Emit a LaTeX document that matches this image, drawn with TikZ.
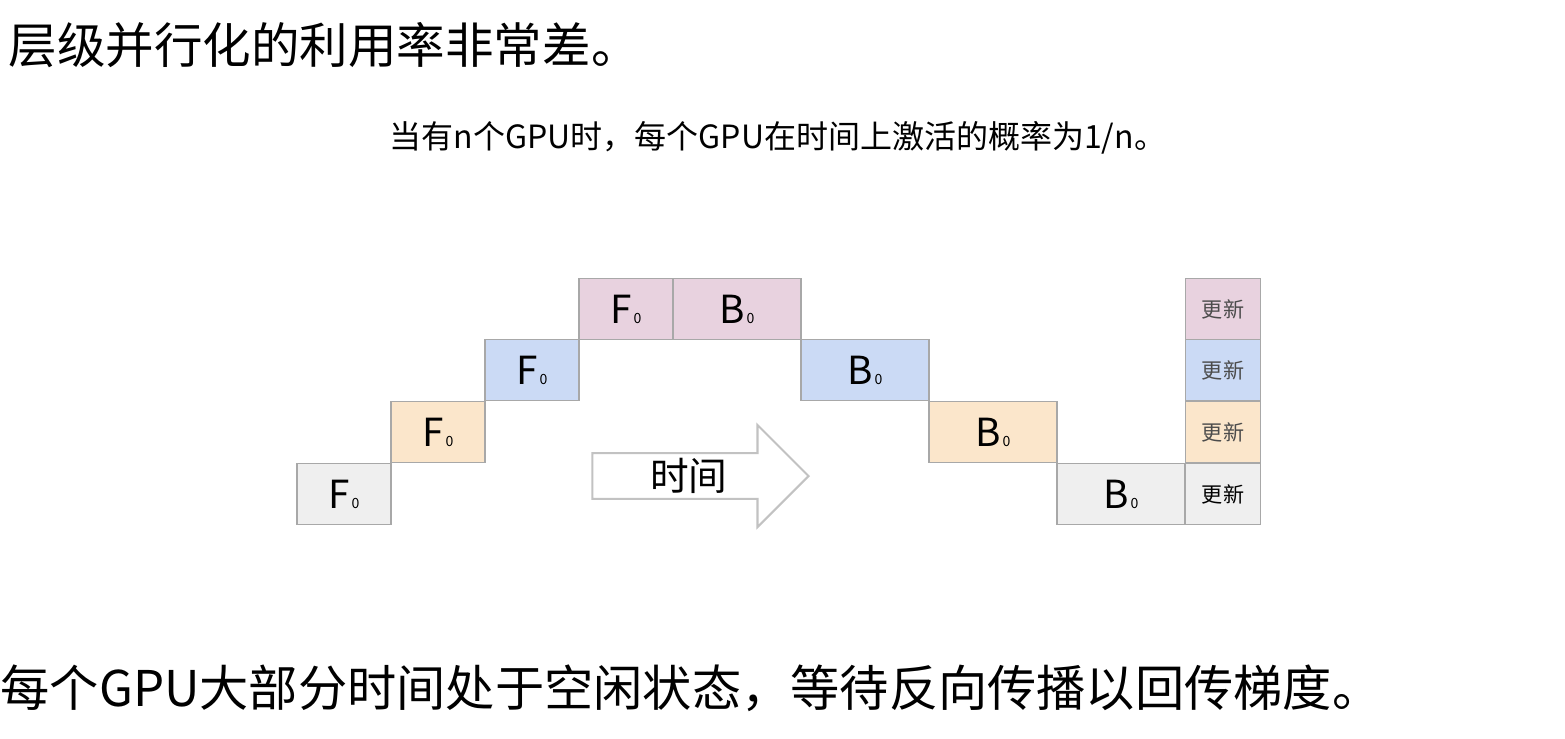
\documentclass[tikz,border=0pt]{standalone}
\usepackage{fontspec}
\setmainfont{Noto Sans CJK SC}
\usepackage{tikz}
\usetikzlibrary{shapes.arrows}
\definecolor{gpua}{HTML}{EFEFEF}
\definecolor{gpub}{HTML}{FBE6CB}
\definecolor{gpuc}{HTML}{CBDAF5}
\definecolor{gpud}{HTML}{E8D2DF}
\definecolor{edge}{HTML}{A8A8A8}
\tikzset{
  stagebox/.style={draw=edge,line width=0.5pt,minimum height=0.61cm,inner sep=0pt,font=\fontsize{11}{11}\selectfont},
  fwd/.style={stagebox,minimum width=0.94cm},
  bwd/.style={stagebox,minimum width=1.28cm},
  upd/.style={stagebox,minimum width=0.75cm,font=\fontsize{6}{6}\selectfont,text=black!70}
}
\newcommand{\sub}[1]{#1\kern0.5pt{\fontsize{4}{4}\selectfont 0}}
\begin{document}
\begin{tikzpicture}[x=0.01cm,y=-0.01cm]
        \useasboundingbox (0,0) rectangle (1565,738);
        \node[anchor=west,inner sep=0pt,font=\fontsize{13.8}{13.8}\selectfont] (title) at (8,45) {层级并行化的利用率非常差。};
        \node[font=\fontsize{9.1}{9.1}\selectfont] (cap) at (778,138) {当有n个GPU时，每个GPU在时间上激活的概率为1/n。};
        \node[anchor=west,inner sep=0pt,font=\fontsize{14}{14}\selectfont] (foot) at (0,688) {每个GPU大部分时间处于空闲状态，等待反向传播以回传梯度。};
        % forward steps
		\node[fwd,fill=gpua] (fa) at (344,494) {\sub{F}};
		\node[fwd,fill=gpub] (fb) at (438,432) {\sub{F}};
		\node[fwd,fill=gpuc] (fc) at (532,370) {\sub{F}};
		\node[fwd,fill=gpud] (fd) at (626,309) {\sub{F}};
        % backward steps
		\node[bwd,fill=gpud] (bd) at (737,309) {\sub{B}};
		\node[bwd,fill=gpuc] (bc) at (865,370) {\sub{B}};
		\node[bwd,fill=gpub] (bb) at (993,432) {\sub{B}};
		\node[bwd,fill=gpua] (ba) at (1121,494) {\sub{B}};
        % updates
		\node[upd,fill=gpud] (ud) at (1223,309) {更新};
		\node[upd,fill=gpuc] (uc) at (1223,370) {更新};
		\node[upd,fill=gpub] (ub) at (1223,432) {更新};
		\node[upd,fill=gpua,text=black] (ua) at (1223,494) {更新};
        % time arrow
		\node[single arrow,draw=edge!70,fill=white,line width=0.6pt,minimum width=1.02cm,
		  single arrow head extend=0.23cm,minimum height=2.16cm,inner sep=0pt,
		  font=\fontsize{11}{11}\selectfont] (time) at (689,476) {时间};
\end{tikzpicture}
\end{document}
